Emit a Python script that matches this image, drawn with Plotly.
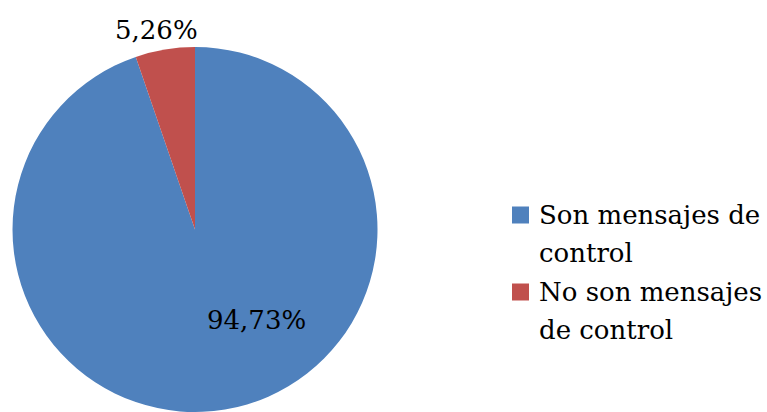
import plotly.graph_objects as go

# Share of messages that are control messages
labels = ["Son mensajes de control", "No son mensajes de control"]
legend_lines = [["Son mensajes de", "control"], ["No son mensajes", "de control"]]
values = [94.73, 5.26]
colors = ["#4F81BD", "#C0504D"]

W, H = 767, 412
FONT = "DejaVu Serif"


def fmt(v):
    return f"{v:.2f}".replace(".", ",") + "%"


fig = go.Figure()

fig.add_trace(go.Pie(
    labels=labels,
    values=values,
    marker=dict(colors=colors, line=dict(width=0)),
    sort=False,
    direction="clockwise",
    rotation=0,
    textinfo="none",
    hoverinfo="label+percent",
    showlegend=False,
    domain=dict(x=[12 / W, 378 / W], y=[0, (H - 47) / H]),
))

# value labels
label_pos = [(256, 320), (156, 30)]
for v, (px, py) in zip(values, label_pos):
    fig.add_annotation(
        x=px / W, y=1 - py / H, xref="paper", yref="paper",
        text=fmt(v), showarrow=False,
        font=dict(family=FONT, size=26, color="#000000"),
        xanchor="center", yanchor="middle",
    )

# legend: square swatch plus wrapped label for each category
LEG_X, LEG_TOP, LINE_H, ITEM_H, SW = 512, 215, 38, 77, 17
for i, (lines, c) in enumerate(zip(legend_lines, colors)):
    yc = LEG_TOP + i * ITEM_H
    fig.add_shape(
        type="rect", xref="paper", yref="paper",
        x0=LEG_X / W, x1=(LEG_X + SW) / W,
        y0=1 - (yc - SW / 2) / H, y1=1 - (yc + SW / 2) / H,
        fillcolor=c, line=dict(width=0),
    )
    for j, line in enumerate(lines):
        fig.add_annotation(
            x=(LEG_X + SW + 8) / W, y=1 - (yc + j * LINE_H) / H,
            xref="paper", yref="paper",
            text=line, showarrow=False,
            font=dict(family=FONT, size=26, color="#000000"),
            xanchor="left", yanchor="middle",
        )

fig.update_layout(
    width=W, height=H,
    margin=dict(l=0, r=0, t=0, b=0),
    paper_bgcolor="white",
    plot_bgcolor="white",
    showlegend=False,
)

fig.write_html("out.html")
